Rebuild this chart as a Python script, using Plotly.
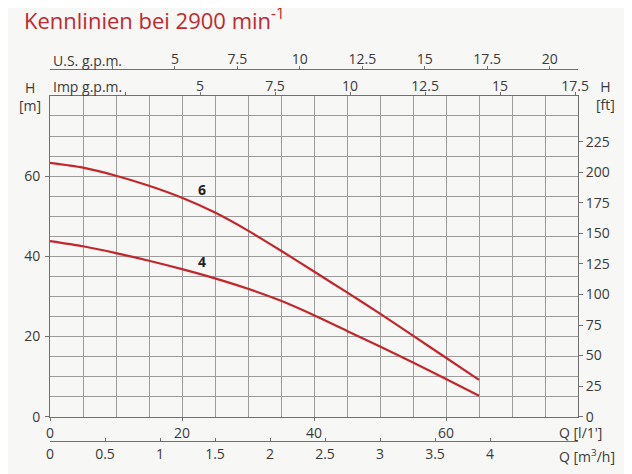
import plotly.graph_objects as go

# ---- data ----
q_lpm = [0, 5, 10, 15, 20, 25, 30, 35, 40, 45, 50, 55, 60, 65]
h_curve6 = [63.3, 62.1, 60.1, 57.6, 54.6, 50.9, 46.4, 41.4, 36.2, 31.0, 25.7, 20.2, 14.7, 9.2]
h_curve4 = [43.8, 42.5, 40.8, 38.9, 36.8, 34.5, 31.9, 28.9, 25.3, 21.4, 17.5, 13.5, 9.4, 5.2]
curve_names = ["6", "4"]
label_pos_q = [23, 23]
label_pos_h = [56.6, 38.8]

q_ticks = [0, 20, 40, 60]
h_ticks = [0, 20, 40, 60]
ft_ticks = [0, 25, 50, 75, 100, 125, 150, 175, 200, 225]
m3h_ticks = [0, 0.5, 1, 1.5, 2, 2.5, 3, 3.5, 4]
m3h_labels = ["0", "0.5", "1", "1.5", "2", "2.5", "3", "3.5", "4"]
imp_ticks = [2.5, 5, 7.5, 10, 12.5, 15, 17.5]
imp_labels = ["", "5", "7.5", "10", "12.5", "15", "17.5"]
us_ticks = [2.5, 5, 7.5, 10, 12.5, 15, 17.5, 20]
us_labels = ["", "5", "7.5", "10", "12.5", "15", "17.5", "20"]

Q_MAX = 80.0
H_MAX = 80.0
FT_PER_M = 3.28084
LPM_PER_IMP = 4.54609
LPM_PER_US = 3.78541

# page body has an 8px margin: the figure is sized to fill the rest of the window
OFF = 8
W, H = 632 - OFF, 474 - OFF
RED = "#c1272d"
TXT = "#3a3a3a"
GRID = "#9c9c9c"
LINE = "#707070"
FONT = "Open Sans"
BG = "#f7f7f5"

def px_x(p):
    return (p - OFF) / W

def px_y(p):
    return (H - (p - OFF)) / H

xdom = [px_x(50), px_x(578)]
ydom = [px_y(416.7), px_y(95.9)]

fig = go.Figure()
for name, hv in zip(curve_names, [h_curve6, h_curve4]):
    fig.add_trace(go.Scatter(x=q_lpm, y=hv, mode="lines", name=name,
                             line=dict(color=RED, width=2.2, shape="spline", smoothing=0.8),
                             xaxis="x", yaxis="y", showlegend=False, hoverinfo="skip"))

# invisible helper traces so that the secondary scales are drawn
for xa, ya in [("x2", "y"), ("x3", "y"), ("x4", "y"), ("x", "y2")]:
    fig.add_trace(go.Scatter(x=[0], y=[0], mode="markers", marker=dict(size=1, opacity=0),
                             xaxis=xa, yaxis=ya, showlegend=False, hoverinfo="skip"))

tickfont = dict(family=FONT, size=14, color=TXT)

common = dict(automargin=False, zeroline=False, tickcolor=LINE,
              showline=True, linecolor=LINE, linewidth=1, tickfont=tickfont)

fig.update_layout(
    width=W, height=H,
    margin=dict(l=0, r=0, t=0, b=0, autoexpand=False),
    paper_bgcolor=BG, plot_bgcolor=BG,
    showlegend=False,
    title=dict(text="Kennlinien bei 2900 min<sup>-1</sup>", x=px_x(24), xanchor="left",
               y=px_y(21), yanchor="middle",
               font=dict(family=FONT, size=22, color=RED)),
    xaxis=dict(domain=xdom, range=[0, Q_MAX], anchor="y", side="bottom",
               tickvals=q_ticks, ticks="outside", ticklen=3,
               showgrid=True, gridcolor=GRID, gridwidth=1,
               minor=dict(dtick=5, tick0=0, showgrid=True, gridcolor=GRID, gridwidth=1),
               **common),
    yaxis=dict(domain=ydom, range=[0, H_MAX], anchor="x", side="left",
               tickvals=h_ticks, ticks="outside", ticklen=4, ticklabelstandoff=2,
               showgrid=True, gridcolor=GRID, gridwidth=1,
               minor=dict(dtick=5, tick0=0, showgrid=True, gridcolor=GRID, gridwidth=1),
               **common),
    yaxis2=dict(domain=ydom, range=[0, H_MAX * FT_PER_M], overlaying="y", anchor="x", side="right",
                tickvals=ft_ticks, ticks="outside", ticklen=4, showgrid=False,
                **common),
    xaxis2=dict(domain=xdom, range=[0, Q_MAX * 60 / 1000], overlaying="x", anchor="free",
                position=px_y(441), side="bottom",
                tickvals=m3h_ticks, ticktext=m3h_labels, ticks="inside", ticklen=3, showgrid=False,
                **common),
    xaxis3=dict(domain=xdom, range=[0, Q_MAX / LPM_PER_IMP], overlaying="x", anchor="y", side="top",
                tickvals=imp_ticks, ticktext=imp_labels, ticks="outside", ticklen=3,
                ticklabelstandoff=-5, showgrid=False,
                **common),
    xaxis4=dict(domain=xdom, range=[0, Q_MAX / LPM_PER_US], overlaying="x", anchor="free",
                position=px_y(69), side="top",
                tickvals=us_ticks, ticktext=us_labels, ticks="outside", ticklen=3,
                ticklabelstandoff=-4, showgrid=False,
                **common),
)

ann_font = dict(family=FONT, size=14, color=TXT)
anns = [
    dict(text="U.S. g.p.m.", x=px_x(51), y=px_y(60), xanchor="left", yanchor="middle"),
    dict(text="Imp g.p.m.", x=px_x(51), y=px_y(87), xanchor="left", yanchor="middle"),
    dict(text="H<br>[m]", x=px_x(30), y=px_y(96), xanchor="center", yanchor="middle"),
    dict(text="H<br>[ft]", x=px_x(605), y=px_y(95), xanchor="center", yanchor="middle"),
    dict(text="Q [l/1']", x=px_x(557), y=px_y(432), xanchor="left", yanchor="middle"),
    dict(text="Q [m<sup>3</sup>/h]", x=px_x(557), y=px_y(456), xanchor="left", yanchor="middle"),
]
for a in anns:
    fig.add_annotation(xref="paper", yref="paper", showarrow=False, font=ann_font, **a)

for name, qx, hy in zip(curve_names, label_pos_q, label_pos_h):
    fig.add_annotation(xref="x", yref="y", x=qx, y=hy, text="<b>" + name + "</b>", showarrow=False,
                       font=dict(family=FONT, size=14, color="#222222"))

fig.write_html("out.html")
